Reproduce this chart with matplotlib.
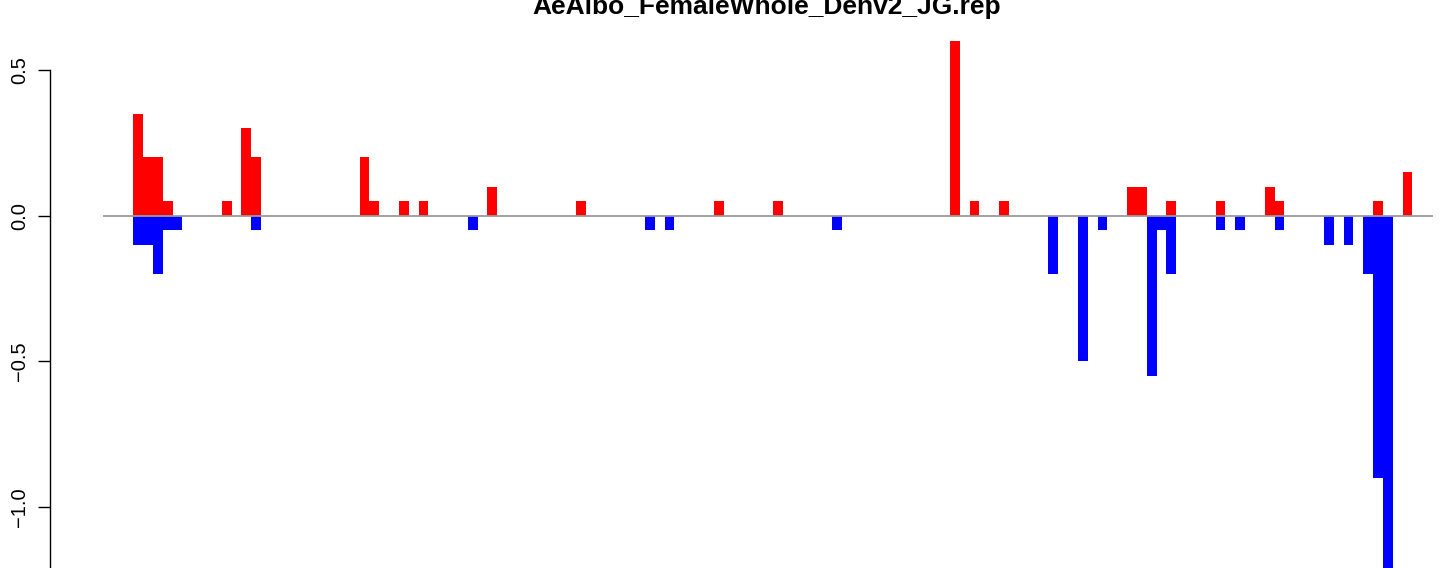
import matplotlib
matplotlib.use("Agg")
import matplotlib.pyplot as plt
import numpy as np

plt.rcParams['font.family'] = ['Liberation Sans', 'DejaVu Sans']

title = "AeAlbo_FemaleWhole_Denv2_JG.rep"
n_bins = 130

# positive (red) bars: bin index -> value
up_idx = [0, 1, 2, 3, 9, 11, 12, 23, 24, 27, 29, 36, 45, 59, 65, 83, 85, 88,
          101, 102, 105, 110, 115, 116, 126, 129]
up_val = [0.35, 0.2, 0.2, 0.05, 0.05, 0.3, 0.2, 0.2, 0.05, 0.05, 0.05, 0.1,
          0.05, 0.05, 0.05, 0.6, 0.05, 0.05, 0.1, 0.1, 0.05, 0.05, 0.1, 0.05,
          0.05, 0.15]

# negative (blue) bars: bin index -> value
down_idx = [0, 1, 2, 3, 4, 12, 34, 52, 54, 71, 93, 96, 98, 103, 104, 105,
            110, 112, 116, 121, 123, 125, 126, 127]
down_val = [-0.1, -0.1, -0.2, -0.05, -0.05, -0.05, -0.05, -0.05, -0.05, -0.05,
            -0.2, -0.5, -0.05, -0.55, -0.05, -0.2, -0.05, -0.05, -0.05, -0.1,
            -0.1, -0.2, -0.9, -1.3]

yticks = [0.5, 0.0, -0.5, -1.0]
ytick_labels = ["0.5", "0.0", "\u22120.5", "\u22121.0"]

W, H = 1444, 568
fig = plt.figure(figsize=(W / 100, H / 100), dpi=100)

# pixel geometry
x0_px, bw_px = 133.2, 9.84
zero_px, unit_px = 215.7, 291.4
axis_px = 50

xl = (axis_px - x0_px) / bw_px
xr = (W - x0_px) / bw_px
yb = -(H - zero_px) / unit_px
yt = zero_px / unit_px

ax = fig.add_axes([axis_px / W, 0, (W - axis_px) / W, 1])
ax.set_xlim(xl, xr)
ax.set_ylim(yb, yt)

ax.bar(up_idx, up_val, width=1.0, align='edge', color='#ff0000', linewidth=0, zorder=2)
ax.bar(down_idx, down_val, width=1.0, align='edge', color='#0000ff', linewidth=0, zorder=2)

ax.plot([(103 - x0_px) / bw_px, (1433 - x0_px) / bw_px], [0, 0],
        color='#9a9a9a', linewidth=1.3, zorder=3, solid_capstyle='butt')

for s in ['top', 'right', 'bottom']:
    ax.spines[s].set_visible(False)
ax.spines['left'].set_bounds(yb, 0.5)
ax.spines['left'].set_linewidth(1.0)
ax.set_xticks([])
ax.set_yticks(yticks)
ax.set_yticklabels(ytick_labels, rotation=90, va='center', fontsize=14.5)
ax.tick_params(axis='y', length=9, width=1.0, pad=6)

fig.text(767 / W, 1 - 14 / H, title, ha='center', va='baseline',
         fontsize=19, fontweight='bold')

fig.savefig("out.png", dpi=100)
